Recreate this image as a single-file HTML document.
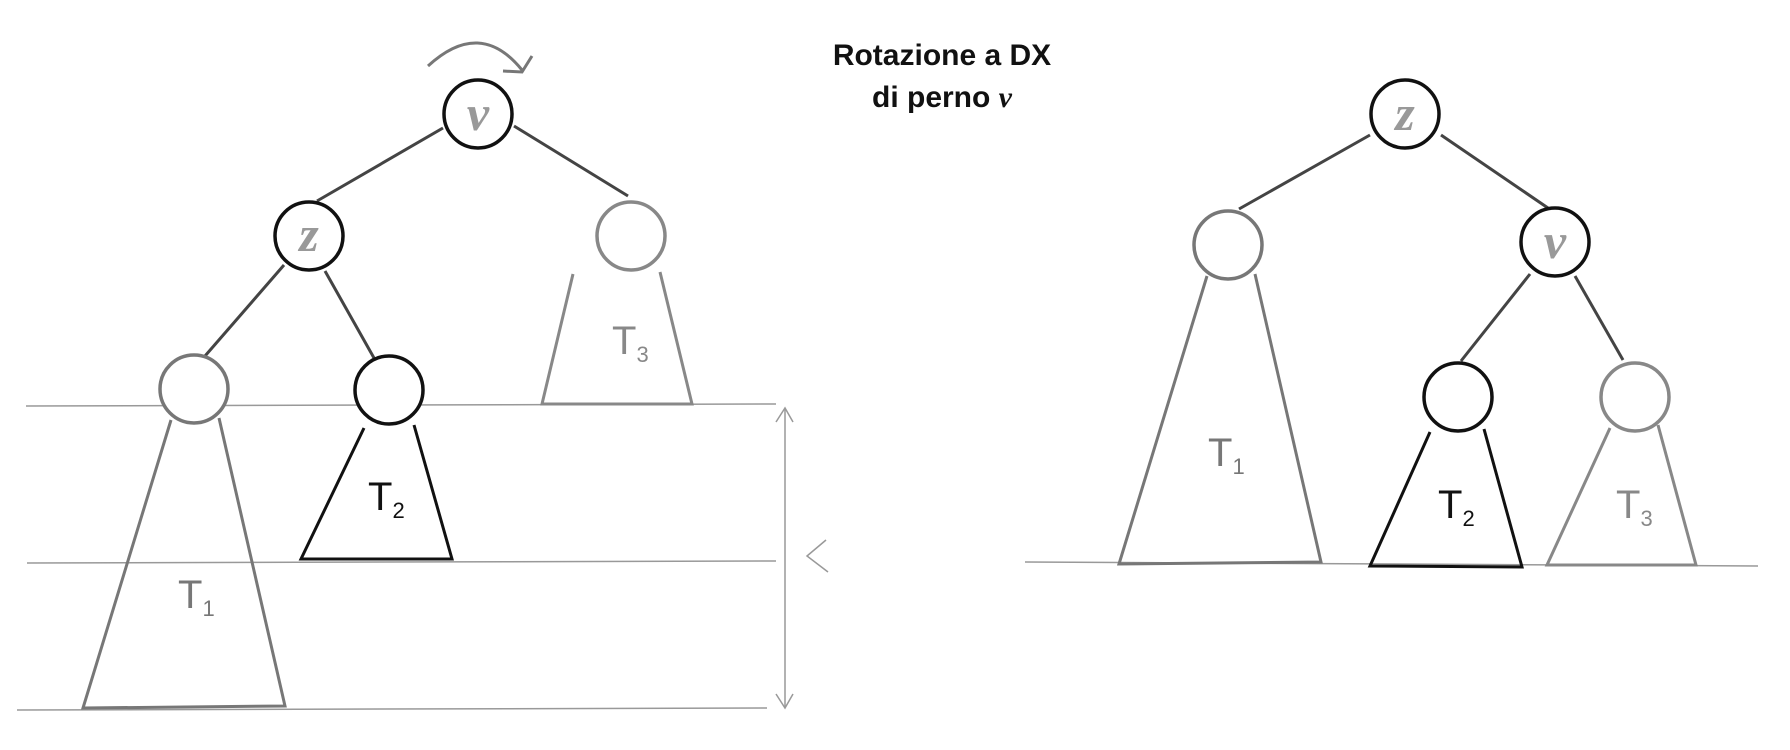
<!DOCTYPE html>
<html><head><meta charset="utf-8"><style>
html,body{margin:0;padding:0;background:#fff;}
svg{display:block;}
.t{font-family:"Liberation Sans",sans-serif;font-weight:bold;font-size:30px;fill:#111;}
.n{font-family:"Liberation Serif",serif;font-style:italic;font-weight:bold;font-size:50px;fill:#999;}
.h{font-family:"Liberation Sans",sans-serif;font-size:40px;}
.s{font-size:22px;}
</style></head><body>
<svg width="1790" height="750" viewBox="0 0 1790 750" xmlns="http://www.w3.org/2000/svg">
<text class="t" x="942" y="65" text-anchor="middle">Rotazione a DX</text>
<text class="t" x="942" y="107" text-anchor="middle">di perno <tspan font-family="Liberation Serif" font-style="italic">v</tspan></text>

<!-- left guides -->
<g stroke="#999" stroke-width="1.5" fill="none">
<line x1="26" y1="406" x2="776" y2="404"/>
<line x1="27" y1="563" x2="776" y2="561"/>
<line x1="17" y1="710" x2="767" y2="708"/>
<line x1="785" y1="408" x2="785" y2="708"/>
<polyline points="776,422 785,408 793,422"/>
<polyline points="776,694 785,708 793,694"/>
<polyline points="826,540 807,556 828,572"/>
</g>
<path d="M428,66 Q480,18 522,70" stroke="#777" stroke-width="3" fill="none"/>
<polyline points="503,71 522,72 532,56" stroke="#777" stroke-width="3" fill="none"/>

<!-- left edges -->
<g stroke="#444" stroke-width="3" fill="none">
<line x1="443" y1="128" x2="317" y2="201"/>
<line x1="514" y1="126" x2="628" y2="196"/>
<line x1="284" y1="265" x2="205" y2="356"/>
<line x1="325" y1="271" x2="374" y2="358"/>
</g>
<!-- left triangles -->
<g fill="none" stroke-width="3">
<polyline points="171,420 83,708 285,706 219,418" stroke="#777"/>
<polyline points="364,428 301,559 452,559 414,425" stroke="#111"/>
<polyline points="573,274 542,404 692,404 660,272" stroke="#888"/>
</g>
<g fill="#fff" stroke-width="3.5">
<circle cx="478" cy="114" r="34" stroke="#111"/>
<circle cx="309" cy="236" r="34" stroke="#111"/>
<circle cx="631" cy="236" r="34" stroke="#888"/>
<circle cx="194" cy="389" r="34" stroke="#777"/>
<circle cx="389" cy="390" r="34" stroke="#111"/>
</g>
<text class="n" x="478" y="130" text-anchor="middle">v</text>
<text class="n" x="309" y="251" text-anchor="middle">z</text>
<text class="h" x="178" y="608" fill="#777">T<tspan class="s" dy="8">1</tspan></text>
<text class="h" x="368" y="510" fill="#111">T<tspan class="s" dy="8">2</tspan></text>
<text class="h" x="612" y="354" fill="#888">T<tspan class="s" dy="8">3</tspan></text>

<!-- right -->
<line x1="1025" y1="562" x2="1758" y2="566" stroke="#999" stroke-width="1.5"/>
<g stroke="#444" stroke-width="3" fill="none">
<line x1="1370" y1="135" x2="1239" y2="209"/>
<line x1="1441" y1="135" x2="1548" y2="208"/>
<line x1="1530" y1="274" x2="1461" y2="361"/>
<line x1="1575" y1="276" x2="1623" y2="360"/>
</g>
<g fill="none" stroke-width="3">
<polyline points="1207,276 1119,564 1321,562 1255,274" stroke="#777"/>
<polyline points="1430,432 1370,566 1522,567 1484,429" stroke="#111"/>
<polyline points="1610,428 1547,565 1696,565 1658,425" stroke="#888"/>
</g>
<g fill="#fff" stroke-width="3.5">
<circle cx="1405" cy="114" r="34" stroke="#111"/>
<circle cx="1228" cy="245" r="34" stroke="#777"/>
<circle cx="1555" cy="242" r="34" stroke="#111"/>
<circle cx="1458" cy="397" r="34" stroke="#111"/>
<circle cx="1635" cy="397" r="34" stroke="#888"/>
</g>
<text class="n" x="1405" y="130" text-anchor="middle">z</text>
<text class="n" x="1555" y="258" text-anchor="middle">v</text>
<text class="h" x="1208" y="466" fill="#777">T<tspan class="s" dy="8">1</tspan></text>
<text class="h" x="1438" y="518" fill="#111">T<tspan class="s" dy="8">2</tspan></text>
<text class="h" x="1616" y="518" fill="#888">T<tspan class="s" dy="8">3</tspan></text>
</svg>
</body></html>
